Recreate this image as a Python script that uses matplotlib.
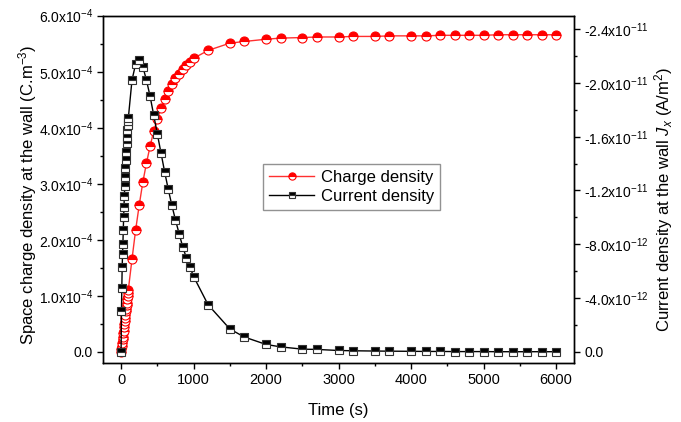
import numpy as np
import matplotlib
matplotlib.use("Agg")
import matplotlib.pyplot as plt
from matplotlib.ticker import MultipleLocator, AutoMinorLocator, FuncFormatter

plt.rcParams['font.family'] = 'Liberation Sans'
plt.rcParams['mathtext.fontset'] = 'custom'
plt.rcParams['mathtext.rm'] = 'Liberation Sans'
plt.rcParams['mathtext.it'] = 'Liberation Sans:italic'

# time (s)
time = [0, 5, 10, 15, 20, 25, 30, 35, 40, 45, 50, 55, 60, 65, 70, 75, 80, 85, 90, 95, 100,
        150, 200, 250, 300, 350, 400, 450, 500, 550, 600, 650, 700, 750, 800, 850, 900, 950, 1000,
        1200, 1500, 1700, 2000, 2200, 2500, 2700, 3000, 3200, 3500, 3700, 4000, 4200, 4400,
        4600, 4800, 5000, 5200, 5400, 5600, 5800, 6000]

# space charge density at the wall, in 1e-4 C/m^3
charge = [0.00, 0.05, 0.11, 0.16, 0.22, 0.27, 0.33, 0.38, 0.44, 0.50, 0.55, 0.61, 0.66, 0.72,
          0.77, 0.83, 0.88, 0.94, 0.99, 1.05, 1.11,
          1.65, 2.17, 2.62, 3.03, 3.37, 3.67, 3.94, 4.15, 4.35, 4.51, 4.66, 4.78, 4.88, 4.96,
          5.04, 5.12, 5.18, 5.24,
          5.38, 5.51, 5.54, 5.58, 5.60, 5.61, 5.62, 5.62, 5.63, 5.63, 5.64, 5.64, 5.64, 5.65,
          5.65, 5.65, 5.65, 5.66, 5.66, 5.66, 5.66, 5.66]

# current density magnitude |Jx|, in 1e-12 A/m^2 (Jx is negative)
current = [0.0, 3.04, 4.78, 6.31, 7.25, 8.04, 9.03, 10.0, 10.8, 11.6, 12.3, 13.0, 13.7, 14.3,
           14.9, 15.5, 16.0, 16.5, 16.9, 17.2, 17.4,
           20.2, 21.4, 21.7, 21.2, 20.2, 19.0, 17.6, 16.2, 14.8, 13.4, 12.1, 10.9, 9.8, 8.8,
           7.8, 7.0, 6.3, 5.6,
           3.5, 1.7, 1.1, 0.55, 0.37, 0.20, 0.18, 0.10, 0.08, 0.06, 0.05, 0.04, 0.03, 0.03,
           0.02, 0.02, 0.02, 0.01, 0.01, 0.01, 0.01, 0.01]

t = np.array(time, dtype=float)
rho = np.array(charge) * 1e-4
jx = -np.array(current) * 1e-12


def sci_fmt(v, pos):
    if abs(v) < 1e-20:
        return '0.0'
    e = int(np.floor(np.log10(abs(v)) + 1e-9))
    m = v / 10**e
    return '%.1fx10$^{%d}$' % (m, e)


fig = plt.figure(figsize=(6.81, 4.22), dpi=100)
ax = fig.add_axes([0.1512, 0.1398, 0.6921, 0.823])
ax2 = ax.twinx()

l1, = ax.plot(t, rho, '-', color='#ff3030', lw=1.0, marker='o', ms=6.5,
              fillstyle='top', markerfacecolor='#ff0000', markerfacecoloralt='white',
              markeredgecolor='#ff0000', markeredgewidth=0.8, label='Charge density')
l2, = ax2.plot(t, jx, '-', color='black', lw=1.0, marker='s', ms=6,
               fillstyle='top', markerfacecolor='black', markerfacecoloralt='white',
               markeredgecolor='#333333', markeredgewidth=0.8, label='Current density')

ax.set_xlim(-250, 6250)
ax.set_ylim(-0.2e-4, 6.0e-4)
ax2.set_ylim(0.83e-12, -2.5e-11)

ax.xaxis.set_major_locator(MultipleLocator(1000))
ax.xaxis.set_minor_locator(AutoMinorLocator(2))
ax.yaxis.set_major_locator(MultipleLocator(1e-4))
ax.yaxis.set_minor_locator(AutoMinorLocator(2))
ax.yaxis.set_major_formatter(FuncFormatter(sci_fmt))
ax2.yaxis.set_major_locator(MultipleLocator(4e-12))
ax2.yaxis.set_minor_locator(AutoMinorLocator(2))
ax2.yaxis.set_major_formatter(FuncFormatter(sci_fmt))
ax.yaxis.get_offset_text().set_visible(False)
ax2.yaxis.get_offset_text().set_visible(False)

for a in (ax, ax2):
    a.tick_params(which='major', direction='out', length=4, width=1, labelsize=10, pad=3)
    a.tick_params(which='minor', direction='out', length=2.5, width=1)
    for s in a.spines.values():
        s.set_linewidth(1.0)
ax.tick_params(axis='x', top=False, labelsize=10.5)

ax.set_xlabel('Time (s)', fontsize=12, labelpad=12)
ax.set_ylabel('Space charge density at the wall (C.m$^{-3}$)', fontsize=12)
ax.yaxis.set_label_coords(-0.135, 0.485)
ax2.set_ylabel('Current density at the wall $J_x$ (A/m$^2$)', fontsize=12)
ax2.yaxis.set_label_coords(1.165, 0.47)

leg = ax2.legend(handles=[l1, l2], loc='upper left', bbox_to_anchor=(0.34, 0.573),
                 borderaxespad=0, fontsize=12, frameon=True, fancybox=False, numpoints=1,
                 markerscale=0.8, handlelength=2.7, borderpad=0.35, labelspacing=0.25,
                 handletextpad=0.4)
leg.get_frame().set_edgecolor('#777777')
leg.get_frame().set_linewidth(1.0)

fig.savefig('out.png', dpi=100)
